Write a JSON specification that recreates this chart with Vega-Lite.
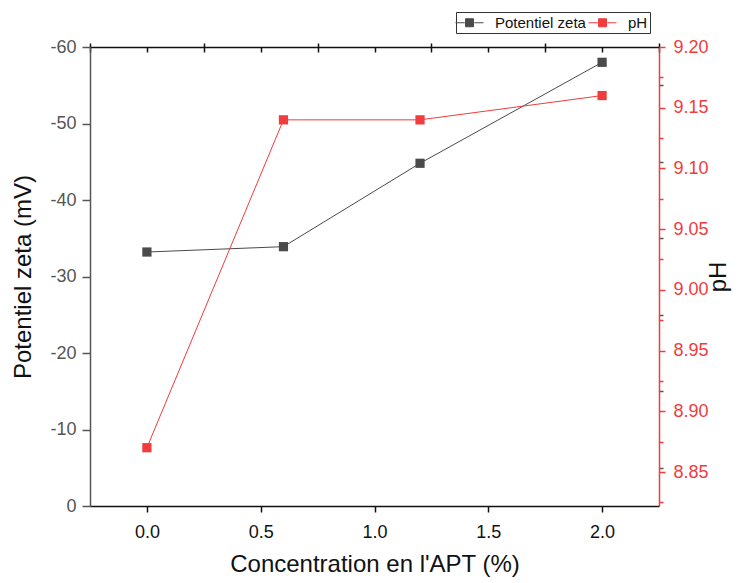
{
  "$schema": "https://vega.github.io/schema/vega-lite/v6.json",
  "width": 569,
  "height": 459,
  "autosize": {"type": "none"},
  "padding": {"left": 90, "top": 47, "right": 87, "bottom": 77},
  "background": "white",
  "config": {
    "font": "Liberation Sans",
    "view": {"stroke": null},
    "axis": {"grid": false, "labelFont": "Liberation Sans", "titleFont": "Liberation Sans", "titleFontWeight": "normal"}
  },
  "datasets": {
    "zeta": [
      {"conc": 0.0, "zeta": -33.2},
      {"conc": 0.6, "zeta": -33.9},
      {"conc": 1.2, "zeta": -44.8},
      {"conc": 2.0, "zeta": -58.0}
    ],
    "ph": [
      {"conc": 0.0, "ph": 8.87},
      {"conc": 0.6, "ph": 9.14},
      {"conc": 1.2, "ph": 9.14},
      {"conc": 2.0, "ph": 9.16}
    ]
  },
  "resolve": {"scale": {"y": "independent"}, "axis": {"x": "independent", "y": "independent"}},
  "layer": [
    {
      "data": {"name": "zeta"},
      "encoding": {
        "x": {
          "field": "conc", "type": "quantitative",
          "scale": {"domain": [-0.25, 2.25], "nice": false, "zero": false},
          "axis": {
            "title": "Concentration en l'APT (%)", "titleFontSize": 24, "titleColor": "#111", "titlePadding": 11,
            "values": [0, 0.5, 1, 1.5, 2], "format": ".1f", "labelFontSize": 18, "labelColor": "#111", "labelPadding": 11,
            "tickSize": 6, "tickColor": "#111", "domainColor": "#111", "domainWidth": 1.5, "tickWidth": 1.5
          }
        },
        "y": {
          "field": "zeta", "type": "quantitative",
          "scale": {"domain": [0, -60], "nice": false, "zero": false},
          "axis": {
            "title": "Potentiel zeta (mV)", "titleFontSize": 24, "titleColor": "#111", "titlePadding": 14,
            "values": [0, -10, -20, -30, -40, -50, -60], "labelExpr": "replace(datum.label, '\u2212', '-')",
            "labelFontSize": 18, "labelColor": "#555", "labelPadding": 6,
            "tickSize": 8, "tickColor": "#555", "domainColor": "#555", "domainWidth": 1.5, "tickWidth": 1.5
          }
        },
        "color": {
          "datum": "Potentiel zeta", "type": "nominal",
          "scale": {"domain": ["Potentiel zeta", "pH"], "range": ["#4a4a4a", "#f03c3c"]},
          "legend": {
            "title": null, "orient": "none", "legendX": 366, "legendY": -35, "direction": "horizontal",
            "strokeColor": "#333", "padding": 2, "labelFontSize": 15, "labelColor": "#111",
            "symbolType": "M-1.75,0H-0.6M-0.5,-0.5H0.5V0.5H-0.5ZM0.6,0H1.75",
            "symbolSize": 256, "symbolStrokeWidth": 1, "columnPadding": 0, "labelOffset": 17, "symbolOffset": 3,
            "encode": {"symbols": {"update": {"stroke": {"scale": "color", "field": "value"}, "strokeWidth": {"value": 1}}}}
          }
        }
      },
      "layer": [
        {"mark": {"type": "line", "strokeWidth": 1}},
        {"mark": {"type": "point", "shape": "square", "filled": true, "size": 85, "opacity": 1}}
      ]
    },
    {
      "data": {"name": "zeta"},
      "mark": {"type": "rule", "opacity": 0},
      "encoding": {
        "x": {
          "field": "conc", "type": "quantitative",
          "axis": {
            "title": null, "labels": false, "domain": false,
            "values": [-0.25, 0.25, 0.75, 1.25, 1.75, 2.25],
            "tickSize": 4, "tickColor": "#111", "tickWidth": 1.5
          }
        }
      }
    },
    {
      "data": {"name": "zeta"},
      "mark": {"type": "rule", "opacity": 0},
      "encoding": {
        "x": {
          "field": "conc", "type": "quantitative",
          "axis": {
            "orient": "top", "title": null, "labels": false,
            "values": [-0.25, 0, 0.25, 0.5, 0.75, 1, 1.25, 1.5, 1.75, 2, 2.25],
            "tickSize": -5, "tickColor": "#111", "domainColor": "#111", "domainWidth": 1.5, "tickWidth": 1.5
          }
        }
      }
    },
    {
      "data": {"name": "zeta"},
      "mark": {"type": "rule", "opacity": 0},
      "encoding": {
        "y": {
          "field": "zeta", "type": "quantitative",
          "scale": {"domain": [0, -60], "nice": false, "zero": false},
          "axis": {
            "title": null, "labels": false, "domain": false,
            "values": [-5, -15, -25, -35, -45, -55],
            "tickSize": 4, "tickColor": "#555", "tickWidth": 1.5
          }
        }
      }
    },
    {
      "data": {"name": "ph"},
      "mark": {"type": "rule", "opacity": 0},
      "encoding": {
        "y": {
          "field": "ph", "type": "quantitative",
          "scale": {"domain": [8.822, 9.2], "nice": false, "zero": false},
          "axis": {
            "orient": "right", "title": null, "labels": false, "domain": false,
            "values": [8.825, 8.875, 8.925, 8.975, 9.025, 9.075, 9.125, 9.175],
            "tickSize": 4, "tickColor": "#f03c3c", "tickWidth": 1.5
          }
        }
      }
    },
    {
      "data": {"name": "ph"},
      "encoding": {
        "x": {"field": "conc", "type": "quantitative", "axis": null},
        "y": {
          "field": "ph", "type": "quantitative",
          "scale": {"domain": [8.822, 9.2], "nice": false, "zero": false},
          "axis": {
            "orient": "right", "title": "pH", "titleFontSize": 24, "titleColor": "#111", "titleAngle": 270, "titlePadding": 22,
            "values": [8.85, 8.9, 8.95, 9.0, 9.05, 9.1, 9.15, 9.2], "format": ".2f", "labelFontSize": 18, "labelColor": "#f03c3c", "labelPadding": 8,
            "tickSize": 6, "tickColor": "#f03c3c", "domainColor": "#f03c3c", "domainWidth": 1.5, "tickWidth": 1.5
          }
        },
        "color": {"datum": "pH", "type": "nominal"}
      },
      "layer": [
        {"mark": {"type": "line", "strokeWidth": 1}},
        {"mark": {"type": "point", "shape": "square", "filled": true, "size": 85, "opacity": 1}}
      ]
    }
  ]
}
